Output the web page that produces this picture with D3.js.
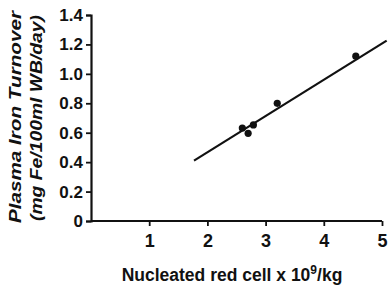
<!DOCTYPE html>
<html>
<head>
<meta charset="utf-8">
<script src="https://cdn.jsdelivr.net/npm/d3@7"></script>
<style>
  body { margin: 0; background: #fff; }
  svg text { font-family: "Liberation Sans", Arial, sans-serif; font-weight: bold; fill: #111; }
</style>
</head>
<body>
<div id="chart"></div>
<script>
// data
const cellsX = [2.60, 2.70, 2.79, 3.20, 4.55];
const turnoverY = [0.632, 0.596, 0.653, 0.80, 1.12];
const fitLine = [[1.77, 0.41], [5.08, 1.226]];
const xTicks = [1, 2, 3, 4, 5];
const yTicks = [0, 0.2, 0.4, 0.6, 0.8, 1.0, 1.2, 1.4];

const W = 388, H = 285;
const margin = { left: 91, top: 15, right: 6, bottom: 64 };

const svg = d3.select('#chart').append('svg')
  .attr('width', W)
  .attr('height', H);

const xScale = d3.scaleLinear().domain([0, 5]).range([margin.left, margin.left + 5 * 58.2]);
const yScale = d3.scaleLinear().domain([0, 1.4]).range([H - margin.bottom, margin.top]);

// y axis
const yAxis = svg.append('g')
  .attr('transform', `translate(${margin.left},0)`)
  .call(d3.axisLeft(yScale).tickValues(yTicks).tickSize(5).tickPadding(3)
    .tickFormat(d => d === 0 ? '0' : d3.format('.1f')(d)));
yAxis.select('.domain').attr('stroke-width', 2.2).attr('stroke', '#111');
yAxis.selectAll('.tick line').attr('stroke-width', 1.8).attr('stroke', '#111');
yAxis.selectAll('.tick text').style('font-size', '17px').attr('fill', '#111');

// x axis
const xAxis = svg.append('g')
  .attr('transform', `translate(0,${yScale(0)})`)
  .call(d3.axisBottom(xScale).tickValues(xTicks).tickSize(5).tickPadding(8)
    .tickFormat(d3.format('d')));
xAxis.select('.domain').attr('stroke-width', 2.2).attr('stroke', '#111')
  .attr('d', `M${margin.left},0H${xScale(5)}`);
xAxis.selectAll('.tick line').attr('stroke-width', 1.8).attr('stroke', '#111');
xAxis.selectAll('.tick text').style('font-size', '18px').attr('fill', '#111');

// regression line
const line = d3.line().x(d => xScale(d[0])).y(d => yScale(d[1]));
svg.append('path')
  .attr('d', line(fitLine))
  .attr('fill', 'none')
  .attr('stroke', '#111')
  .attr('stroke-width', 2.2);

// points
svg.selectAll('.pt')
  .data(cellsX.map((x, i) => [x, turnoverY[i]]))
  .enter()
  .append('circle')
  .attr('class', 'pt')
  .attr('cx', d => xScale(d[0]))
  .attr('cy', d => yScale(d[1]))
  .attr('r', 3.6)
  .attr('fill', '#111');

// axis titles
svg.append('text')
  .attr('transform', 'translate(21,117) rotate(-90)')
  .attr('text-anchor', 'middle')
  .style('font-size', '17px')
  .style('font-style', 'italic')
  .attr('textLength', 212)
  .attr('lengthAdjust', 'spacingAndGlyphs')
  .text('Plasma Iron Turnover');

svg.append('text')
  .attr('transform', 'translate(42,118) rotate(-90)')
  .attr('text-anchor', 'middle')
  .style('font-size', '16px')
  .style('font-style', 'italic')
  .attr('textLength', 206)
  .attr('lengthAdjust', 'spacingAndGlyphs')
  .text('(mg Fe/100ml WB/day)');

const xt = svg.append('text')
  .attr('x', 232)
  .attr('y', 281)
  .attr('text-anchor', 'middle')
  .style('font-size', '17.5px');
xt.append('tspan').text('Nucleated red cell x 10');
xt.append('tspan').attr('dy', -7).style('font-size', '12px').text('9');
xt.append('tspan').attr('dy', 7).text('/kg');
</script>
</body>
</html>
